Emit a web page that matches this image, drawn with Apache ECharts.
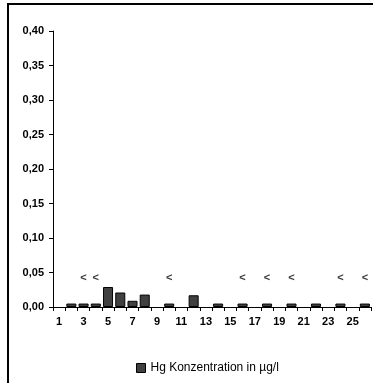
<!DOCTYPE html>
<html><head><meta charset="utf-8">
<script src="https://cdn.jsdelivr.net/npm/echarts@6/dist/echarts.min.js"></script>
<style>html,body{margin:0;padding:0;background:#fff}#c{width:373px;height:383px}</style>
</head><body><div id="c"></div>
<script>
var categories = ['1','2','3','4','5','6','7','8','9','10','11','12','13','14','15','16','17','18','19','20','21','22','23','24','25','26'];
var hgValues = [null,0.005,0.005,0.005,0.029,0.021,0.009,0.018,null,0.005,null,0.017,null,0.005,null,0.005,null,0.005,null,0.005,null,0.005,null,0.005,null,0.005];
var lessThanCategories = ['3','4','10','16','18','20','24','26'];
var lessThanLevel = 0.042;
var yTicks = [0,0.05,0.10,0.15,0.20,0.25,0.30,0.35,0.40];

var chart = echarts.init(document.getElementById('c'));
var font = 'Arial, "Liberation Sans", sans-serif';
chart.setOption({
  animation: false,
  backgroundColor: '#fff',
  graphic: [{type:'rect', shape:{x:8,y:4,width:400,height:400}, style:{fill:'none', stroke:'#000', lineWidth:2}, z:-1}],
  grid: {left:53, right:2, top:31, bottom:76},
  legend: {
    data:['Hg Konzentration in µg/l'], left:131, top:357,
    icon:'rect', itemWidth:9, itemHeight:9, itemGap:2,
    textStyle:{fontFamily:font, fontSize:12, color:'#000'},
    itemStyle:{borderColor:'#000', borderWidth:1}
  },
  xAxis: {
    type:'category', data:categories, boundaryGap:true,
    axisLine:{lineStyle:{color:'#000', width:1}},
    axisTick:{show:true, interval:0, length:4, lineStyle:{color:'#000'}},
    axisLabel:{interval:1, color:'#000', fontFamily:font, fontSize:11, fontWeight:'bold', margin:9}
  },
  yAxis: {
    type:'value', min:yTicks[0], max:yTicks[yTicks.length-1], interval:0.05,
    axisLine:{show:true, lineStyle:{color:'#000', width:1}},
    axisTick:{show:true, length:4, lineStyle:{color:'#000'}},
    splitLine:{show:false},
    axisLabel:{color:'#000', fontFamily:font, fontSize:11, fontWeight:'bold', margin:9,
      formatter:function(v){return v.toFixed(2).replace('.',',');}}
  },
  series: [
    {name:'Hg Konzentration in µg/l', type:'bar', data:hgValues, barCategoryGap:'18%',
     itemStyle:{color:'#404040', borderColor:'#000', borderWidth:1}},
    {name:'lt', type:'scatter', symbolSize:0, silent:true,
     data:lessThanCategories.map(function(c){return [c, lessThanLevel];}),
     label:{show:true, position:'inside', formatter:'<', color:'#000', fontFamily:font, fontSize:11, fontWeight:'bold'}}
  ]
});
</script></body></html>
